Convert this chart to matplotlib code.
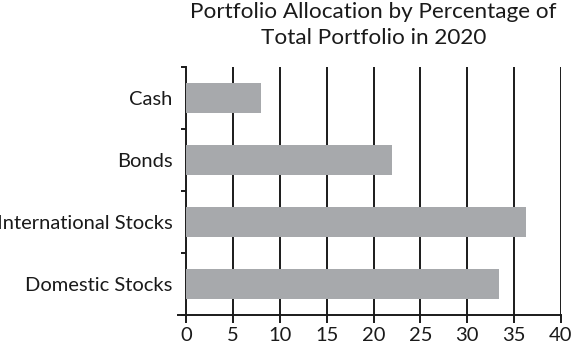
import matplotlib
matplotlib.use("Agg")
import matplotlib.pyplot as plt
import numpy as np

categories = ["Domestic Stocks", "International Stocks", "Bonds", "Cash"]
values = [33.4, 36.3, 22.0, 8.0]
x_ticks = [0, 5, 10, 15, 20, 25, 30, 35, 40]
title = "Portfolio Allocation by Percentage of\nTotal Portfolio in 2020"

FONT = "Lato"
BAR_COLOR = "#a7a9ac"
INK = "#1a1a1a"

plt.rcParams["font.family"] = [FONT, "DejaVu Sans"]

fig = plt.figure(figsize=(5.72, 3.5), dpi=100)
ax = fig.add_axes([186 / 572, 35 / 350, 375 / 572, 248 / 350])

y = np.arange(len(categories))
ax.barh(y, values, height=0.47, color=BAR_COLOR, zorder=3)

ax.set_xlim(0, 40)
ax.set_ylim(-0.5, len(categories) - 0.5)

# vertical grid behind bars
for t in x_ticks[1:]:
    ax.axvline(t, color=INK, linewidth=1.4, zorder=1)

ax.set_xticks(x_ticks)
ax.set_xticklabels([str(t) for t in x_ticks], fontsize=14.5, color=INK)
ax.tick_params(axis="x", direction="out", length=5.8, width=1.4,
               color=INK, pad=3)

# category labels at bar centres, short ticks between categories
ax.set_yticks(y)
ax.set_yticklabels(categories, fontsize=14.5, color=INK)
ax.tick_params(axis="y", which="major", length=0, pad=9.5)
ax.set_yticks(np.arange(-0.5, len(categories)), minor=True)
ax.tick_params(axis="y", which="minor", direction="out", length=3.6,
               width=1.4, color=INK)

for side in ("top", "right"):
    ax.spines[side].set_visible(False)
for side in ("left", "bottom"):
    ax.spines[side].set_color(INK)
    ax.spines[side].set_linewidth(1.4)
ax.spines["bottom"].set_bounds(-0.85, 40)

fig.text(373.5 / 572, 0.995, title, ha="center", va="top",
         fontsize=16.2, linespacing=1.42, color=INK)

fig.savefig("out.png", dpi=100)
